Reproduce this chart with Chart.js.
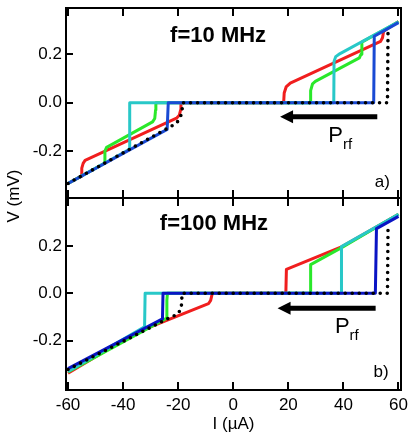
<!DOCTYPE html>
<html>
<head>
<meta charset="utf-8">
<script src="https://cdn.jsdelivr.net/npm/chart.js@4.4.1/dist/chart.umd.min.js"></script>
<style>
  html, body { margin: 0; padding: 0; background: #fff; }
  #wrap { position: relative; width: 415px; height: 442px; }
  #wrap canvas { position: absolute; left: 0; top: 0; }
</style>
</head>
<body>
<div id="wrap">
  <canvas id="chartA" width="415" height="442"></canvas>
  <canvas id="chartB" width="415" height="442"></canvas>
</div>
<script>
// ─── Data ─────────────────────────────────────────
const xTicks = [-60, -40, -20, 0, 20, 40, 60];
const yTicks = [-0.2, 0, 0.2];

// panel a) f = 10 MHz — pairs [I (µA), V (mV)]
const redA   = [[-60,-0.333],[-55.2,-0.303],[-55,-0.27],[-54.5,-0.25],[-53.8,-0.238],[-20.6,-0.064],[-19.6,-0.052],[-19.1,-0.03],[-19,0],
                [18.3,0],[18.5,0.04],[19.2,0.065],[20.7,0.081],[53.5,0.253],[54.2,0.268],[54.6,0.295],[60,0.335]];
const greenA = [[-60,-0.333],[-46.8,-0.25],[-46.6,-0.2],[-46,-0.184],[-45,-0.178],[-29.3,-0.079],[-28.5,-0.065],[-28.2,-0.03],[-28.1,0],
                [27.9,0],[28.1,0.05],[28.8,0.078],[29.8,0.088],[45.8,0.185],[46.4,0.2],[46.7,0.25],[60,0.334]];
const cyanA  = [[-60,-0.333],[-37.7,-0.192],[-37.6,0],[36.5,0],[36.6,0.17],[37.2,0.19],[38.3,0.199],[60,0.334]];
const blueA  = [[-60,-0.333],[-24,-0.11],[-23.6,0],[51,0],[51.2,0.274],[60,0.33]];
const blackA = [[-60,-0.333],[-20.6,-0.085],[-19.2,-0.06],[-18.6,-0.035],[-18.4,0],[56,0],[56.2,0.3]];

// panel b) f = 100 MHz
const redB   = [[-60,-0.338],[-37,-0.178],[-33,-0.156],[-9,-0.044],[-8.2,-0.03],[-7.8,-0.01],[-7.6,0],
                [19.1,0],[19.3,0.101],[39.5,0.197],[60,0.334]];
const greenB = [[-60,-0.332],[-24.3,-0.106],[-24.1,-0.03],[-23.9,0],[28,0],[28.1,0.121],[39.5,0.194],[60,0.334]];
const cyanB  = [[-60,-0.33],[-32.2,-0.142],[-32,0],[39.2,0],[39.3,0.197],[60,0.334]];
const blueB  = [[-60,-0.318],[-25.7,-0.108],[-25.5,0],[51.6,0],[52,0.273],[60,0.325]];
const blackB = [[-60,-0.322],[-22.6,-0.1],[-20.4,-0.09],[-18.9,-0.066],[-18.7,-0.03],[-18.6,0],[56,0],[56.2,0.285]];

// ─── Styles ───────────────────────────────────────
const FONT = "'Liberation Sans', Arial, Helvetica, sans-serif";
Chart.defaults.font.family = FONT;
Chart.defaults.color = '#000';

const colRed = '#f01e1e';
const colGreen = '#2ae82a';
const colCyan = '#28c8c8';

function toXY(pairs) {
  return pairs.map(([x, y]) => ({ x, y }));
}

function buildDatasets(series) {
  // the last series ends up on top
  return series.map((s, i) => ({
    data: toXY(s.data),
    borderColor: s.color,
    borderWidth: s.dotted ? 3.6 : 3,
    borderDash: s.dotted ? [0, 7] : [],
    borderCapStyle: s.dotted ? 'round' : 'butt',
    borderJoinStyle: 'round',
    pointRadius: 0,
    tension: 0,
    fill: false,
    order: series.length - i
  }));
}

function noPad(s) {
  s.paddingLeft = s.paddingRight = s.paddingTop = s.paddingBottom = 0;
}

// ─── Frame, ticks and annotations ─────────────────
const panelDeco = {
  id: 'panelDeco',
  afterDatasetsDraw(chart, args, o) {
    const { ctx, chartArea: a, scales: { x, y } } = chart;
    ctx.save();
    ctx.strokeStyle = '#000';
    ctx.fillStyle = '#000';
    ctx.lineWidth = 2;
    ctx.strokeRect(a.left, a.top, a.right - a.left, a.bottom - a.top);

    ctx.beginPath();
    xTicks.forEach(v => {
      const px = Math.round(x.getPixelForValue(v));
      ctx.moveTo(px, a.top); ctx.lineTo(px, a.top + 8);
      ctx.moveTo(px, a.bottom); ctx.lineTo(px, a.bottom - 8);
    });
    yTicks.forEach(v => {
      const py = Math.round(y.getPixelForValue(v));
      ctx.moveTo(a.left, py); ctx.lineTo(a.left + 7, py);
    });
    ctx.stroke();

    // title
    ctx.font = 'bold 22px ' + FONT;
    ctx.textAlign = 'center';
    ctx.textBaseline = 'alphabetic';
    ctx.fillText(o.title, x.getPixelForValue(o.titleAt[0]), y.getPixelForValue(o.titleAt[1]));

    // a) / b)
    ctx.font = '17px ' + FONT;
    ctx.textAlign = 'right';
    ctx.fillText(o.tag, x.getPixelForValue(o.tagAt[0]), y.getPixelForValue(o.tagAt[1]));

    // arrow
    const xt = x.getPixelForValue(o.arrow[0]);
    const xh = x.getPixelForValue(o.arrow[1]);
    const ya = y.getPixelForValue(o.arrow[2]);
    ctx.lineWidth = 5;
    ctx.beginPath();
    ctx.moveTo(xt, ya); ctx.lineTo(xh + 10, ya);
    ctx.stroke();
    ctx.beginPath();
    ctx.moveTo(xh, ya); ctx.lineTo(xh + 13, ya - 6.5); ctx.lineTo(xh + 13, ya + 6.5);
    ctx.closePath();
    ctx.fill();

    // P_rf
    const px = x.getPixelForValue(o.pAt[0]);
    const py = y.getPixelForValue(o.pAt[1]);
    ctx.textAlign = 'left';
    ctx.font = '22px ' + FONT;
    ctx.fillText('P', px, py);
    const w = ctx.measureText('P').width;
    ctx.font = '15px ' + FONT;
    ctx.fillText('rf', px + w, py + 7);

    // shared y title
    if (o.yTitle) {
      ctx.font = '17px ' + FONT;
      ctx.textAlign = 'center';
      ctx.textBaseline = 'middle';
      ctx.translate(14, a.bottom - 2);
      ctx.rotate(-Math.PI / 2);
      ctx.fillText(o.yTitle, 0, 0);
    }
    ctx.restore();
  }
};

function yScale(min, max) {
  return {
    type: 'linear', min, max,
    afterBuildTicks: s => { s.ticks = yTicks.map(v => ({ value: v })); },
    afterFit: s => { s.width = 60; noPad(s); },
    grid: { display: false, drawTicks: false },
    border: { display: false },
    ticks: { font: { size: 17 }, padding: 4, callback: v => v.toFixed(1) }
  };
}

function xScale(show) {
  return {
    type: 'linear', min: -60.73, max: 60.91,
    display: show,
    afterBuildTicks: s => { s.ticks = xTicks.map(v => ({ value: v })); },
    afterFit: s => { if (show) s.height = 52; noPad(s); },
    grid: { display: false, drawTicks: false },
    border: { display: false },
    ticks: { font: { size: 17 }, padding: 5, maxRotation: 0, autoSkip: false },
    title: { display: show, text: 'I (µA)', font: { size: 17 }, padding: { top: 0, bottom: 7 } }
  };
}

function makeChart(id, series, yMin, yMax, pad, showX, deco) {
  return new Chart(document.getElementById(id), {
    type: 'line',
    data: { datasets: buildDatasets(series) },
    options: {
      responsive: false,
      animation: false,
      layout: { padding: pad },
      scales: { x: xScale(showX), y: yScale(yMin, yMax) },
      plugins: { legend: { display: false }, tooltip: { enabled: false }, panelDeco: deco }
    },
    plugins: [panelDeco]
  });
}

// ─── Init ─────────────────────────────────────────
makeChart('chartA', [
  { data: redA, color: colRed },
  { data: greenA, color: colGreen },
  { data: cyanA, color: colCyan },
  { data: blueA, color: '#1a4ad4' },
  { data: blackA, color: '#000', dotted: true }
], -0.393, 0.3905, { left: 6, right: 14, top: 8, bottom: 244 }, false, {
  title: 'f=10 MHz', titleAt: [-5.5, 0.2515],
  tag: 'a)', tagAt: [56.9, -0.346],
  arrow: [52.3, 17, -0.058], pAt: [34.5, -0.161],
  yTitle: 'V (mV)'
});

makeChart('chartB', [
  { data: redB, color: colRed },
  { data: greenB, color: colGreen },
  { data: cyanB, color: colCyan },
  { data: blueB, color: '#0a14c4' },
  { data: blackB, color: '#000', dotted: true }
], -0.4085, 0.4026, { left: 6, right: 14, top: 198, bottom: 0 }, true, {
  title: 'f=100 MHz', titleAt: [-7, 0.267],
  tag: 'b)', tagAt: [56.4, -0.354],
  arrow: [51.7, 16.1, -0.063], pAt: [36.9, -0.169]
});
</script>
</body>
</html>
